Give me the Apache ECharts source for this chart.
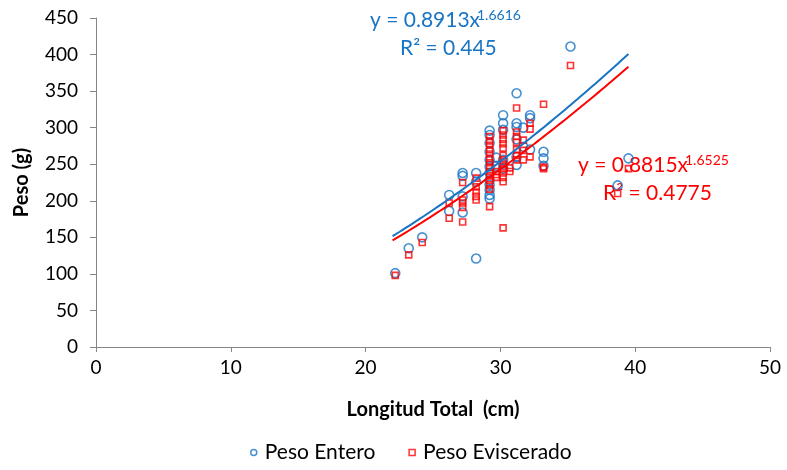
<!DOCTYPE html>
<html>
<head>
<meta charset="utf-8">
<script src="https://cdn.jsdelivr.net/npm/echarts@6/dist/echarts.min.js"></script>
<style>
  html, body { margin: 0; padding: 0; background: #fff; }
  #chart { width: 787px; height: 470px; }
</style>
</head>
<body>
<div id="chart"></div>
<script>
// datos: [longitud (cm), peso (g)]
const pesoEntero = [
  [22.2, 101], [23.2, 135], [24.2, 150], [26.2, 208], [26.2, 186],
  [27.2, 238], [27.2, 234], [27.2, 206], [27.2, 184],
  [28.2, 238], [28.2, 226], [28.2, 121],
  [29.2, 296], [29.2, 290], [29.2, 279], [29.2, 267], [29.2, 256], [29.2, 247],
  [29.2, 238], [29.2, 228], [29.2, 222], [29.2, 215], [29.2, 208], [29.2, 203],
  [29.7, 259], [29.7, 248],
  [30.2, 317], [30.2, 306], [30.2, 297], [30.2, 256], [30.2, 250], [30.2, 244],
  [31.2, 347], [31.2, 306], [31.2, 301], [31.2, 284], [31.2, 260], [31.2, 249],
  [31.7, 300], [31.7, 274],
  [32.2, 317], [32.2, 313], [32.2, 270],
  [33.2, 267], [33.2, 258], [33.2, 248],
  [35.2, 411], [38.7, 221], [39.5, 258]
];
const pesoEviscerado = [
  [22.2, 98], [23.2, 126], [24.2, 143], [26.2, 197], [26.2, 176],
  [27.2, 225], [27.2, 201], [27.2, 197], [27.2, 191], [27.2, 171],
  [28.2, 231], [28.2, 219], [28.2, 212], [28.2, 206], [28.2, 201],
  [29.2, 288], [29.2, 282], [29.2, 276], [29.2, 270], [29.2, 264], [29.2, 258],
  [29.2, 252], [29.2, 246], [29.2, 240], [29.2, 234], [29.2, 228], [29.2, 222],
  [29.2, 216], [29.2, 192],
  [29.7, 240], [29.7, 236], [29.7, 232],
  [30.2, 296], [30.2, 290], [30.2, 284], [30.2, 278], [30.2, 272], [30.2, 262],
  [30.2, 256], [30.2, 250], [30.2, 244], [30.2, 238], [30.2, 232], [30.2, 226], [30.2, 163],
  [30.7, 245], [30.7, 240],
  [31.2, 327], [31.2, 294], [31.2, 288], [31.2, 280], [31.2, 270], [31.2, 262], [31.2, 256],
  [31.7, 283], [31.7, 269], [31.7, 256],
  [32.2, 306], [32.2, 298], [32.2, 260],
  [33.2, 332], [33.2, 246], [33.2, 244],
  [35.2, 385], [38.7, 210], [39.5, 244]
];
// ajuste potencial y = a * x^b mostrado en la grafica
const ajusteEntero = [0.8913, 1.6616];
const ajusteEviscerado = [0.8815, 1.6525];
const rangoAjuste = [22, 39.5];

function curva(coef) {
  const pts = [];
  for (let x = rangoAjuste[0]; x <= rangoAjuste[1] + 1e-9; x += 0.5) {
    pts.push([x, coef[0] * Math.pow(x, coef[1])]);
  }
  return pts;
}

const azul = '#1874C4';
const rojo = '#FF0000';
const fuente = 'Lato';

const chart = echarts.init(document.getElementById('chart'));
chart.setOption({
  animation: false,
  textStyle: { fontFamily: fuente },
  grid: { left: 96, right: 17, top: 18, bottom: 123, containLabel: false },
  xAxis: {
    type: 'value', min: 0, max: 50, interval: 10,
    name: 'Longitud Total  (cm)', nameLocation: 'middle', nameGap: 53,
    nameTextStyle: { fontSize: 20, fontWeight: 'bold', color: '#000' },
    axisLine: { onZero: false, lineStyle: { color: '#868686' } },
    axisTick: { show: true, length: 5, lineStyle: { color: '#868686' } },
    axisLabel: { fontSize: 19, color: '#000', margin: 11 },
    splitLine: { show: false }
  },
  yAxis: {
    type: 'value', min: 0, max: 450, interval: 50,
    name: 'Peso (g)', nameLocation: 'middle', nameGap: 64, nameRotate: 90,
    nameTextStyle: { fontSize: 20, fontWeight: 'bold', color: '#000' },
    axisLine: { show: true, lineStyle: { color: '#868686' } },
    axisTick: { show: true, length: 6, lineStyle: { color: '#868686' } },
    axisLabel: { fontSize: 19, color: '#000', margin: 18 },
    splitLine: { show: false }
  },
  legend: {
    bottom: 2, left: 245, itemGap: 33, itemWidth: 6, itemHeight: 6,
    textStyle: { fontSize: 21, color: '#000', padding: [0, 0, 0, 3] },
    data: [
      { name: 'Peso Entero', icon: 'circle', itemStyle: { color: '#fff', borderColor: azul, borderWidth: 1.5 } },
      { name: 'Peso Eviscerado', icon: 'rect', itemStyle: { color: '#fff', borderColor: rojo, borderWidth: 1.5 } }
    ]
  },
  series: [
    {
      name: 'Peso Entero', type: 'scatter', data: pesoEntero,
      symbol: 'circle', symbolSize: 9,
      itemStyle: { color: 'rgba(255,255,255,0)', borderColor: azul, borderWidth: 1.6 },
      z: 3
    },
    {
      name: 'Peso Eviscerado', type: 'scatter', data: pesoEviscerado,
      symbol: 'rect', symbolSize: 6,
      itemStyle: { color: 'rgba(255,255,255,0)', borderColor: rojo, borderWidth: 1.6 },
      z: 4
    },
    {
      name: 'ajuste entero', type: 'line', data: curva(ajusteEntero),
      showSymbol: false, smooth: true,
      lineStyle: { color: azul, width: 2 }, z: 5
    },
    {
      name: 'ajuste eviscerado', type: 'line', data: curva(ajusteEviscerado),
      showSymbol: false, smooth: true,
      lineStyle: { color: rojo, width: 2 }, z: 5
    }
  ],
  graphic: [
    { type: 'text', left: 370, top: 10, style: { text: 'y = 0.8913x', fontSize: 21, fill: azul, fontFamily: fuente } },
    { type: 'text', left: 477, top: 8, style: { text: '1.6616', fontSize: 14, fill: azul, fontFamily: fuente } },
    { type: 'text', left: 400, top: 38, style: { text: 'R² = 0.445', fontSize: 21, fill: azul, fontFamily: fuente } },
    { type: 'text', left: 578, top: 155, style: { text: 'y = 0.8815x', fontSize: 21, fill: rojo, fontFamily: fuente } },
    { type: 'text', left: 685, top: 153, style: { text: '1.6525', fontSize: 14, fill: rojo, fontFamily: fuente } },
    { type: 'text', left: 603, top: 183, style: { text: 'R² = 0.4775', fontSize: 21, fill: rojo, fontFamily: fuente } }
  ]
});
</script>
</body>
</html>
